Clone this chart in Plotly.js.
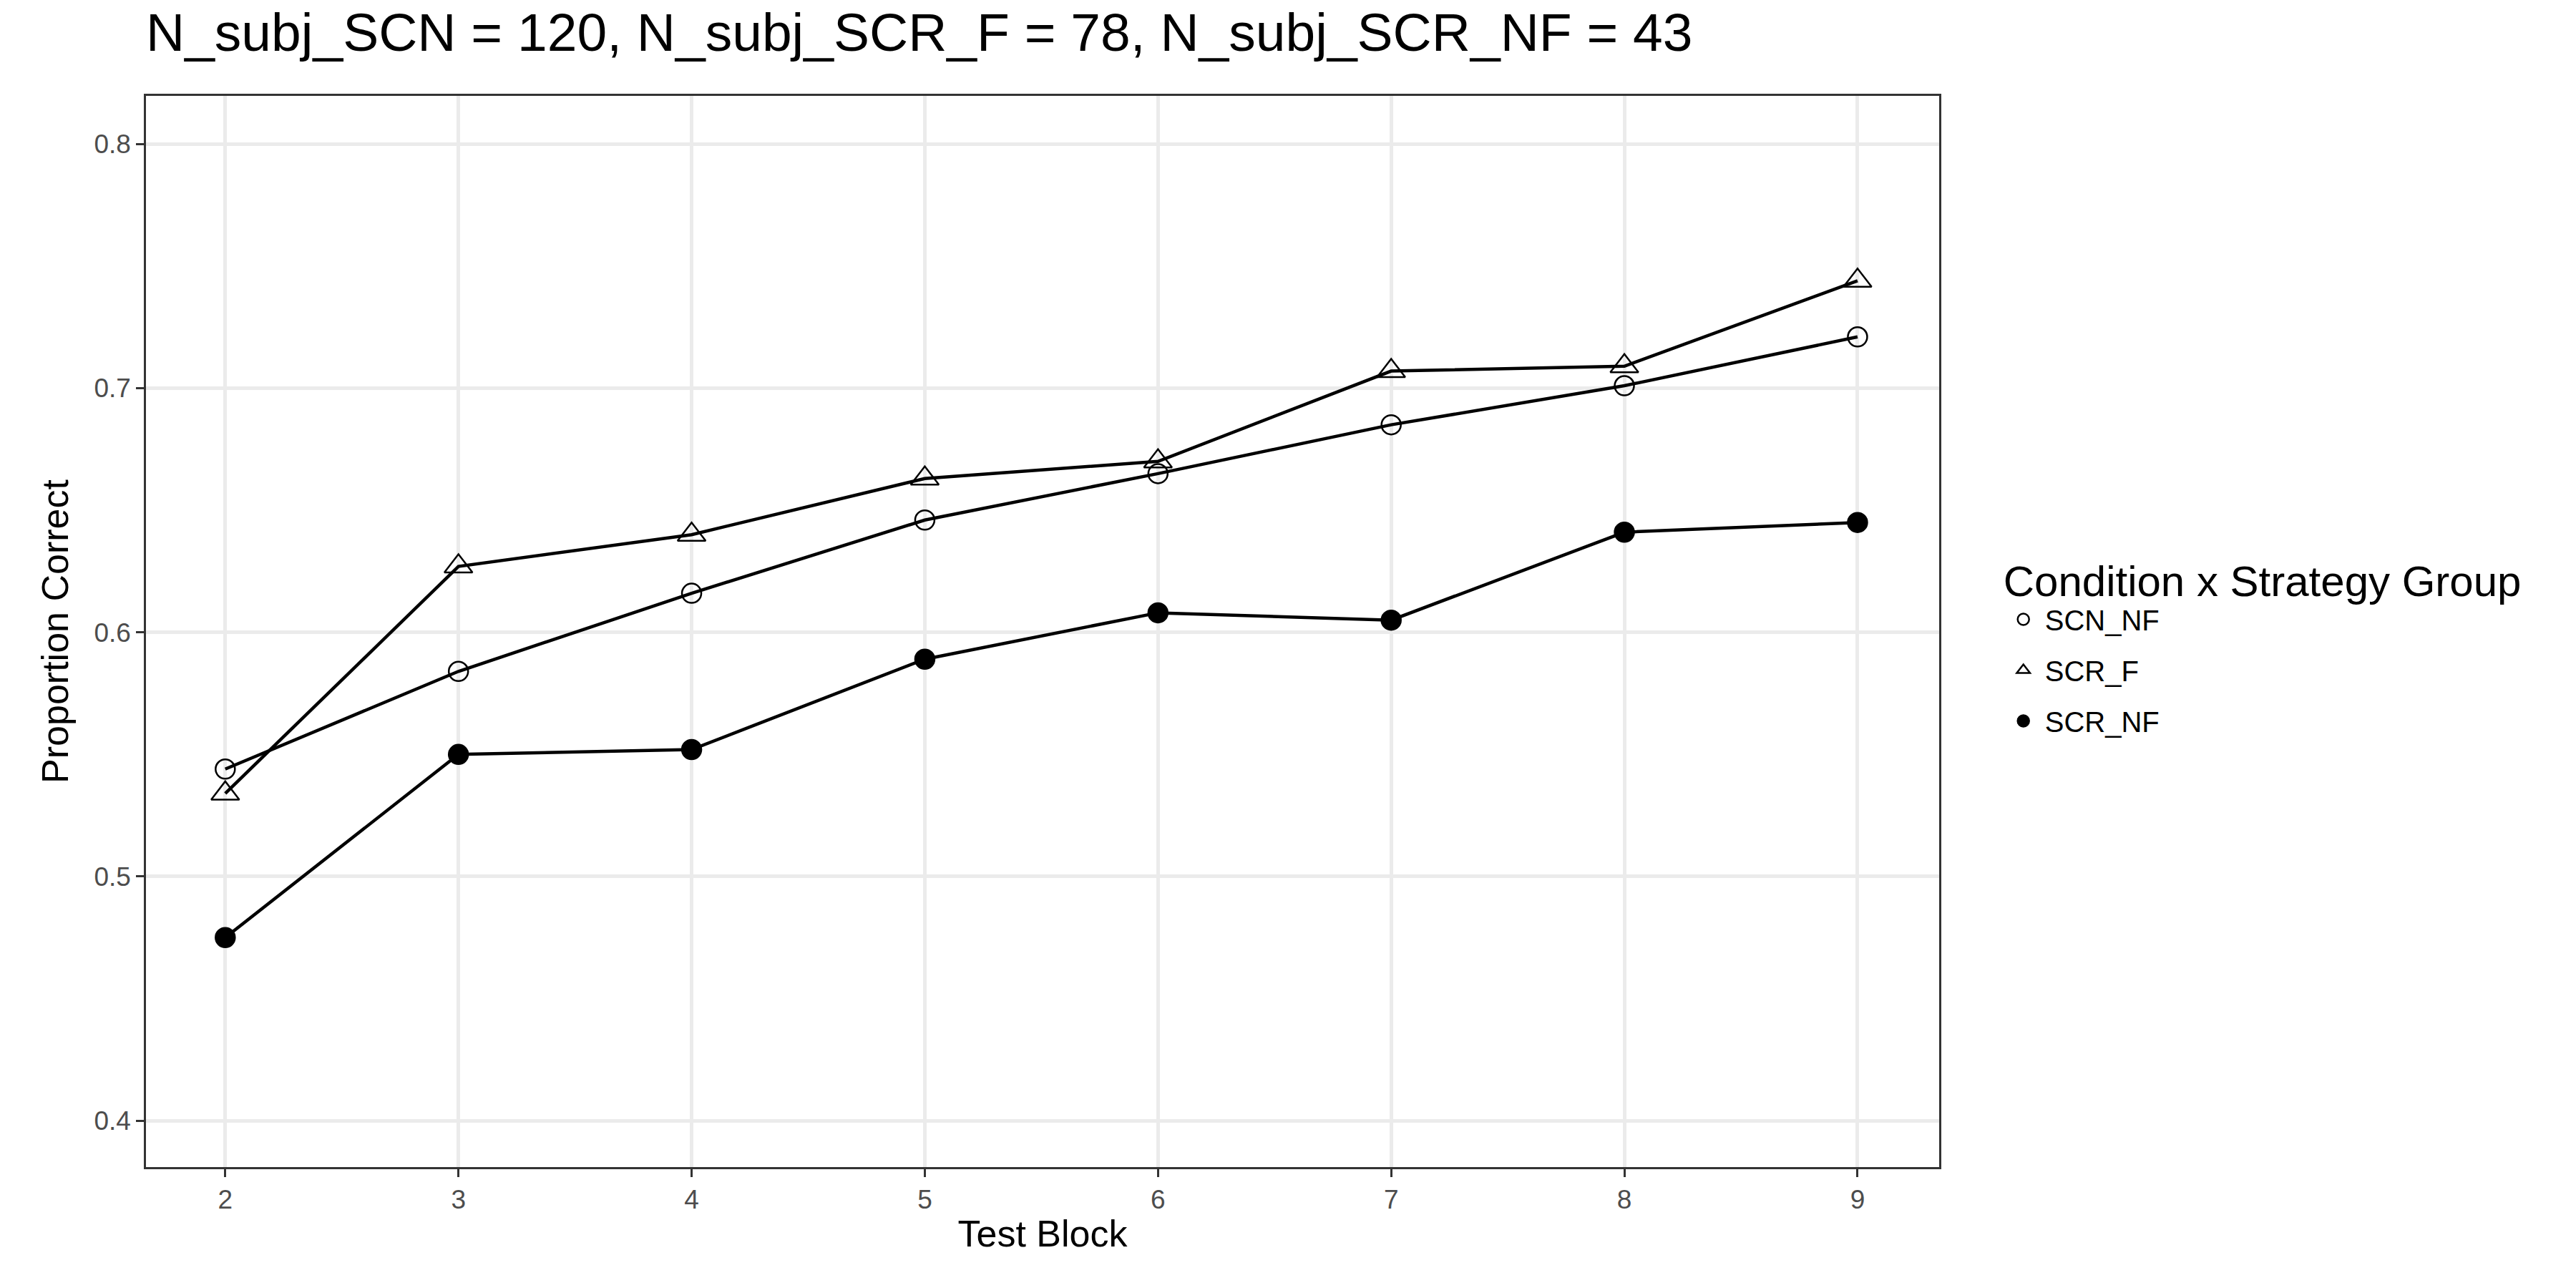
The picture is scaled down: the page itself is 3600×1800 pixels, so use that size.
<!DOCTYPE html>
<html>
<head>
<meta charset="utf-8">
<script src="https://cdn.plot.ly/plotly-3.0.1.min.js"></script>
<style>body{margin:0}#plot{width:3600px;height:1800px}</style>
</head>
<body>
<div id="plot"></div>
<script>
const blocks = [2, 3, 4, 5, 6, 7, 8, 9]
const scnNF = [0.544, 0.584, 0.616, 0.646, 0.665, 0.685, 0.701, 0.721]
const scrF = [0.534, 0.627, 0.640, 0.663, 0.670, 0.707, 0.709, 0.744]
const scrNF = [0.475, 0.550, 0.552, 0.589, 0.608, 0.605, 0.641, 0.645]
const yTicks = [0.4, 0.5, 0.6, 0.7, 0.8]

function markerFor(symbol){
    return {symbol: symbol, size: symbol === "triangle-up-open" ? 34 : 27, color: "black", line: {width: 2.5, color: "black"}}
}

function series(name, y, symbol){
    return {
        x: blocks, y: y, name: name, type: "scatter", mode: "lines+markers",
        showlegend: false, legendgroup: name,
        line: {color: "black", width: 4.5},
        marker: markerFor(symbol)
    }
}

// legend-only traces so the key shows symbols without lines
function key(name, symbol){
    return {x: [null], y: [null], name: name, type: "scatter", mode: "markers",
        legendgroup: name, marker: markerFor(symbol)}
}

const data = [
    series("SCN_NF", scnNF, "circle-open"),
    series("SCR_F", scrF, "triangle-up-open"),
    series("SCR_NF", scrNF, "circle"),
    key("SCN_NF", "circle-open"),
    key("SCR_F", "triangle-up-open"),
    key("SCR_NF", "circle")
]

const axisBase = {
    showgrid: true, gridcolor: "#ebebeb", gridwidth: 4.5, zeroline: false,
    showline: true, linecolor: "#333", linewidth: 2.5, mirror: true,
    ticks: "outside", ticklen: 11, tickwidth: 2.5, tickcolor: "#333",
    tickfont: {size: 37, color: "#4d4d4d", family: "Liberation Sans, Arial"}
}

const layout = {
    width: 3600, height: 1800,
    margin: {l: 204, r: 890, t: 134, b: 169},
    paper_bgcolor: "white", plot_bgcolor: "white",
    font: {family: "Liberation Sans, Arial", color: "black"},
    title: {text: "N_subj_SCN = 120, N_subj_SCR_F = 78, N_subj_SCR_NF = 43",
        x: 204/3600, xanchor: "left", y: 0.99, yanchor: "top", font: {size: 75}},
    xaxis: Object.assign({}, axisBase, {range: [1.66, 9.35], tickvals: blocks,
        title: {text: "Test Block", font: {size: 52}, standoff: 10}}),
    yaxis: Object.assign({}, axisBase, {range: [0.381, 0.8197], tickvals: yTicks,
        tickformat: ".1f", title: {text: "Proportion Correct", font: {size: 52}, standoff: 20}}),
    showlegend: true,
    legend: {x: 1.035, xanchor: "left", y: 0.49, yanchor: "middle",
        title: {text: "Condition x Strategy Group", font: {size: 60}},
        font: {size: 40}, itemwidth: 50, tracegroupgap: 16}
}

Plotly.newPlot("plot", data, layout, {displayModeBar: false})
</script>
</body>
</html>
